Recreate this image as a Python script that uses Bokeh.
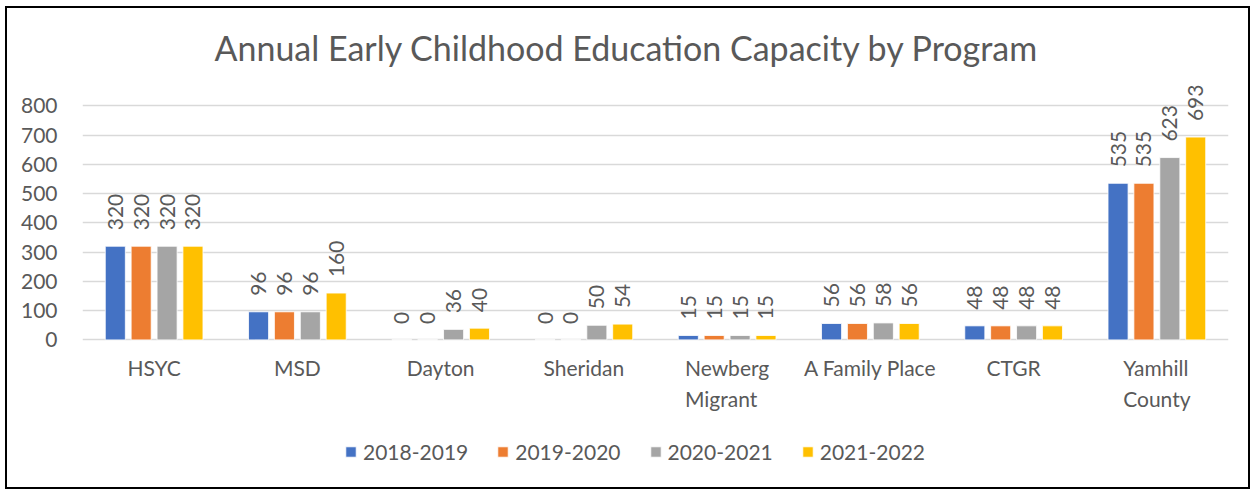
import math
from bokeh.plotting import figure
from bokeh.models import (ColumnDataSource, FactorRange, FixedTicker, LabelSet,
                          Legend, LegendItem, Range1d)
from bokeh.transform import dodge
from bokeh.core.properties import value
from bokeh.embed import file_html
from bokeh.resources import INLINE

# ---- data ----
programs = ["HSYC", "MSD", "Dayton", "Sheridan", "Newberg\nMigrant",
            "A Family Place", "CTGR", "Yamhill\nCounty"]
years = ["2018-2019", "2019-2020", "2020-2021", "2021-2022"]
cap_2018_2019 = [320, 96, 0, 0, 15, 56, 48, 535]
cap_2019_2020 = [320, 96, 0, 0, 15, 56, 48, 535]
cap_2020_2021 = [320, 96, 36, 50, 15, 58, 48, 623]
cap_2021_2022 = [320, 160, 40, 54, 15, 56, 48, 693]
y_ticks = [0, 100, 200, 300, 400, 500, 600, 700, 800]

series = [cap_2018_2019, cap_2019_2020, cap_2020_2021, cap_2021_2022]
colors = ["#4472C4", "#ED7D31", "#A5A5A5", "#FFC000"]
offsets = [-0.271, -0.0905, 0.0905, 0.271]
TXT = "#595959"
FONT = "Lato"

data = {"program": programs}
for i, s in enumerate(series):
    data[f"v{i}"] = s
    data[f"t{i}"] = [str(v) for v in s]
src = ColumnDataSource(data)

# frame reaches the bottom of the chart so that the legend and category
# labels below the bars are not clipped; y = 0 stays at the bar baseline
p = figure(width=1245, height=483, x_range=FactorRange(*programs),
           y_range=Range1d(-518, 900), output_backend="svg", toolbar_location=None,
           min_border_left=75, min_border_right=24, min_border_top=68,
           min_border_bottom=0,
           styles={"border": "2px solid black",
                   "transform": "translate(5px, 6px)"})

p.title.text = "Annual Early Childhood Education Capacity by Program"
p.title.align = "left"
p.title.text_font = FONT
p.title.text_font_style = "normal"
p.title.text_font_size = "34px"
p.title.text_color = TXT
p.title.offset = 132
p.title.standoff = 17

p.outline_line_color = None
p.xgrid.grid_line_color = None
p.ygrid.ticker = FixedTicker(ticks=y_ticks)
p.ygrid.grid_line_color = "#D9D9D9"
p.ygrid.grid_line_width = 1.5

p.yaxis.ticker = FixedTicker(ticks=y_ticks)
p.yaxis.axis_line_color = None
p.yaxis.major_tick_line_color = None
p.yaxis.minor_tick_line_color = None
p.yaxis.major_label_standoff = 19
p.yaxis.major_label_text_font = FONT
p.yaxis.major_label_text_font_size = "21px"
p.yaxis.major_label_text_color = TXT

p.xaxis.visible = False

# category labels under the baseline
cat_labels = LabelSet(x="program", y=value(0), text="program", source=src,
                      y_offset=-15, text_align="center", text_baseline="top",
                      text_line_height=1.25, text_font=value(FONT),
                      text_font_size="21px", text_color=TXT)
p.add_layout(cat_labels)

items = []
for i, (yr, col, off) in enumerate(zip(years, colors, offsets)):
    r = p.vbar(x=dodge("program", off, range=p.x_range), top=f"v{i}", width=0.14,
               source=src, fill_color=col, line_color="white", line_width=0.8)
    items.append(LegendItem(label=yr, renderers=[r]))
    lbl = LabelSet(x=dodge("program", off, range=p.x_range), y=f"v{i}", text=f"t{i}",
                   source=src, angle=math.pi / 2, text_align="left",
                   text_baseline="middle", y_offset=16,
                   text_font=value(FONT), text_font_size="21px", text_color=TXT)
    p.add_layout(lbl)

legend = Legend(items=items, orientation="horizontal", location=(262, 27),
                glyph_width=13, glyph_height=13, label_standoff=6, spacing=28,
                padding=0, margin=0, border_line_color=None,
                background_fill_alpha=0, label_text_font=FONT,
                label_text_font_size="21px", label_text_color=TXT)
p.add_layout(legend, "center")

open("out.html", "w").write(file_html(p, INLINE))
